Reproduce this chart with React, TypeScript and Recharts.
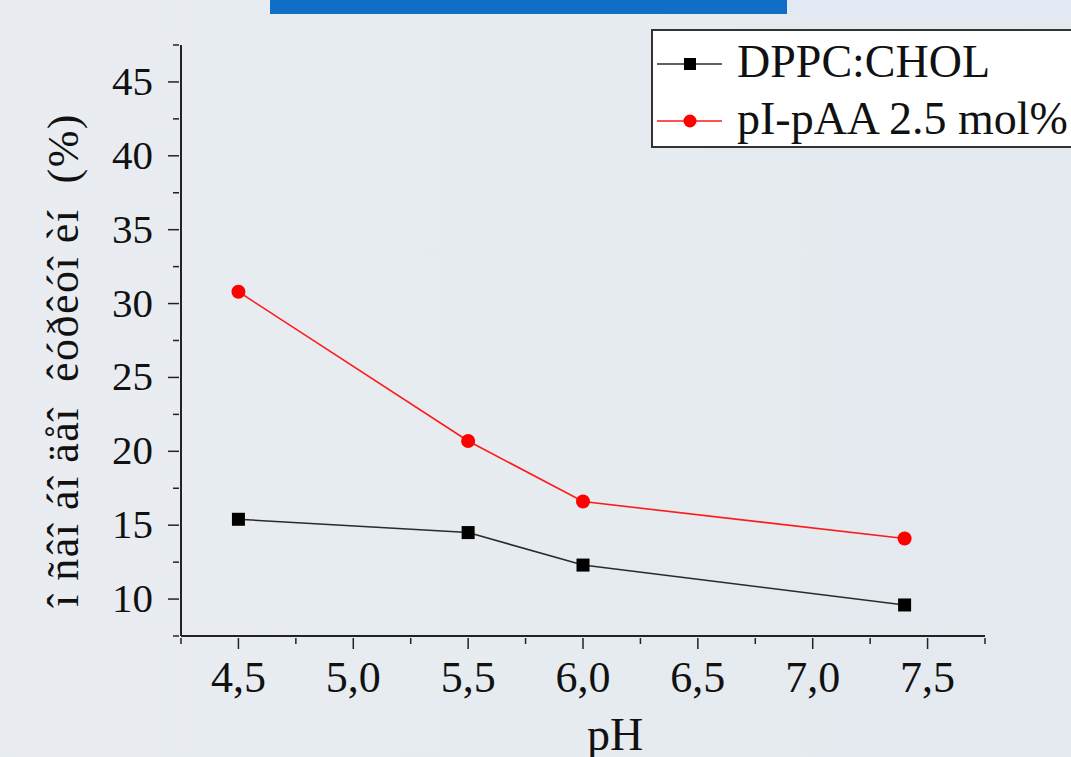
import React from 'react'
import { LineChart, Line, XAxis, YAxis } from 'recharts'

const phValues = [4.5, 5.5, 6.0, 7.4]
const dppcChol = [15.4, 14.5, 12.3, 9.6]
const piPaa = [30.8, 20.7, 16.6, 14.1]

const xTicks = [4.25, 4.5, 4.75, 5.0, 5.25, 5.5, 5.75, 6.0, 6.25, 6.5, 6.75, 7.0, 7.25, 7.5, 7.75]
const yTicks = [7.5, 10, 12.5, 15, 17.5, 20, 22.5, 25, 27.5, 30, 32.5, 35, 37.5, 40, 42.5, 45, 47.5]

const seriesNames = ['DPPC:CHOL', 'pI-pAA 2.5 mol%']
const yLabel = 'î ñâî áî äåî  êóðêóî èí  (%)'
const xLabel = 'pH'

const data = phValues.map((ph, i) => ({ ph, a: dppcChol[i], b: piPaa[i] }))

const FONT = '"Liberation Serif", "Times New Roman", serif'
const AXIS = '#222'
const BLACK_LINE = '#2a2a2a'
const RED_LINE = '#ff1a1a'

function XTick(props: any) {
  const { x, y, payload } = props
  const v = payload.value
  const major = Math.abs(v * 2 - Math.round(v * 2)) < 1e-6
  const showLabel = major && v > 4.3 && v < 7.7
  return (
    <g>
      <line x1={x} y1={y} x2={x} y2={y + (major ? 11 : 6)} stroke={AXIS} strokeWidth={1.5} />
      {showLabel && (
        <text x={x} y={y + 54} textAnchor="middle" fontFamily={FONT} fontSize={44} fill="#111">
          {v.toFixed(1).replace('.', ',')}
        </text>
      )}
    </g>
  )
}

function YTick(props: any) {
  const { x, y, payload } = props
  const v = payload.value
  const major = v % 5 === 0
  const showLabel = major && v > 8 && v < 47
  return (
    <g>
      <line x1={x} y1={y} x2={x - (major ? 11 : 6)} y2={y} stroke={AXIS} strokeWidth={1.5} />
      {showLabel && (
        <text x={x - 26} y={y + 13} textAnchor="end" fontFamily={FONT} fontSize={41} fill="#111">
          {v}
        </text>
      )}
    </g>
  )
}

function SquareDot(props: any) {
  const { cx, cy } = props
  if (cx == null || cy == null) return null
  return <rect x={cx - 6.5} y={cy - 6.5} width={13} height={13} fill="#000" />
}

function CircleDot(props: any) {
  const { cx, cy } = props
  if (cx == null || cy == null) return null
  return <circle cx={cx} cy={cy} r={7} fill="#ff0000" />
}

export default function App() {
  return (
    <div
      style={{
        position: 'fixed',
        left: 0,
        top: 0,
        width: 1071,
        height: 757,
        overflow: 'hidden',
        background: 'linear-gradient(90deg, #e9edf1 0%, #e6ebf0 60%, #e4e9ef 100%)',
        fontFamily: FONT,
      }}
    >
      {/* slide decoration on top */}
      <div style={{ position: 'absolute', left: 270, top: 0, width: 517, height: 14, background: '#0f6ec6' }} />
      <div style={{ position: 'absolute', left: 787, top: 0, width: 284, height: 14, background: '#e2e8f4' }} />

      <LineChart
        width={1071}
        height={757}
        data={data}
        margin={{ top: 45, right: 86, bottom: 0, left: 0 }}
        style={{ position: 'absolute', left: 0, top: 0 }}
      >
        <XAxis
          dataKey="ph"
          type="number"
          domain={[4.25, 7.75]}
          ticks={xTicks}
          interval={0}
          height={121}
          tickSize={0}
          tickLine={false}
          tick={<XTick />}
          axisLine={{ stroke: AXIS, strokeWidth: 2 }}
          allowDataOverflow
        />
        <YAxis
          type="number"
          domain={[7.5, 47.5]}
          ticks={yTicks}
          interval={0}
          width={181}
          tickSize={0}
          tickLine={false}
          tick={<YTick />}
          axisLine={{ stroke: AXIS, strokeWidth: 2 }}
          allowDataOverflow
        />
        <Line
          dataKey="a"
          name={seriesNames[0]}
          stroke={BLACK_LINE}
          strokeWidth={1.6}
          dot={<SquareDot />}
          activeDot={false}
          isAnimationActive={false}
        />
        <Line
          dataKey="b"
          name={seriesNames[1]}
          stroke={RED_LINE}
          strokeWidth={1.6}
          dot={<CircleDot />}
          activeDot={false}
          isAnimationActive={false}
        />
      </LineChart>

      {/* axis titles + legend */}
      <svg width={1071} height={757} style={{ position: 'absolute', left: 0, top: 0 }}>
        <text
          transform="translate(78, 360) rotate(-90)"
          textAnchor="middle"
          fontFamily={FONT}
          fontSize={44}
          letterSpacing={1.5}
          fill="#111"
          style={{ whiteSpace: 'pre' }}
        >
          {yLabel}
        </text>
        <text x={615} y={750} textAnchor="middle" fontFamily={FONT} fontSize={46} fill="#111">
          {xLabel}
        </text>

        <rect x={652} y={30} width={500} height={117} fill="#fff" stroke="#333" strokeWidth={2} />
        {seriesNames.map((name, i) => {
          const cy = 64 + i * 57
          const color = i === 0 ? BLACK_LINE : RED_LINE
          return (
            <g key={name}>
              <line x1={657} y1={cy} x2={722} y2={cy} stroke={color} strokeWidth={1.6} />
              {i === 0 ? (
                <rect x={684} y={cy - 6} width={12} height={12} fill="#000" />
              ) : (
                <circle cx={690} cy={cy} r={6.5} fill="#ff0000" />
              )}
              <text x={737} y={cy + 13} fontFamily={FONT} fontSize={46} fill="#111" style={{ whiteSpace: 'pre' }}>
                {name}
              </text>
            </g>
          )
        })}
      </svg>
    </div>
  )
}
